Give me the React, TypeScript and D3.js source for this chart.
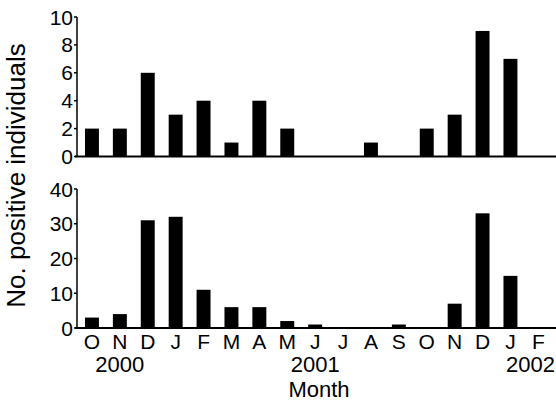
import React from "react";
import * as d3 from "d3";

const months = ["O", "N", "D", "J", "F", "M", "A", "M", "J", "J", "A", "S", "O", "N", "D", "J", "F"];
const topValues = [2, 2, 6, 3, 4, 1, 4, 2, 0, 0, 1, 0, 2, 3, 9, 7, 0];
const bottomValues = [3, 4, 31, 32, 11, 6, 6, 2, 1, 0, 0, 1, 0, 7, 33, 15, 0];
const topTicks = [0, 2, 4, 6, 8, 10];
const bottomTicks = [0, 10, 20, 30, 40];
const years = [
  { label: "2000", index: 1 },
  { label: "2001", index: 8 },
];
const lastYear = "2002";
const yLabel = "No. positive individuals";
const xLabel = "Month";

const W = 556;
const H = 402;
const FONT = "'Liberation Sans', Arial, Helvetica, sans-serif";
const axisX = 77;

export default function App() {
  const idx = months.map((_, i) => i);
  const x = d3
    .scaleBand<number>()
    .domain(idx)
    .range([78, 78 + 17 * 27.9])
    .paddingInner(0.5)
    .paddingOuter(0.25);

  const yTop = d3.scaleLinear().domain([0, 10]).range([156.5, 17]);
  const yBot = d3.scaleLinear().domain([0, 40]).range([328, 189]);

  const panel = (
    values: number[],
    y: d3.ScaleLinear<number, number>,
    ticks: number[],
    key: string
  ) => (
    <g key={key}>
      {values.map((v, i) =>
        v > 0 ? (
          <rect
            key={i}
            x={x(i)}
            y={y(v)}
            width={x.bandwidth()}
            height={y(0) - y(v)}
            fill="#000"
          />
        ) : null
      )}
      <line x1={axisX} x2={axisX} y1={y(ticks[ticks.length - 1])} y2={y(0)} stroke="#000" strokeWidth={1.5} />
      <line x1={75} x2={W} y1={y(0)} y2={y(0)} stroke="#000" strokeWidth={2} />
      {ticks.map((t) => (
        <g key={t}>
          <line x1={axisX - 3} x2={axisX} y1={y(t)} y2={y(t)} stroke="#000" strokeWidth={1.5} />
          <text
            x={axisX - 4}
            y={y(t)}
            dy="0.36em"
            textAnchor="end"
            fontSize={21}
            fontFamily={FONT}
          >
            {t}
          </text>
        </g>
      ))}
    </g>
  );

  return (
    <svg width={W} height={H} style={{ display: "block", position: "absolute", left: 0, top: 0 }}>
      <rect width={W} height={H} fill="#fff" />
      {panel(topValues, yTop, topTicks, "top")}
      {panel(bottomValues, yBot, bottomTicks, "bottom")}
      {months.map((m, i) => (
        <text
          key={i}
          x={(x(i) as number) + x.bandwidth() / 2}
          y={349}
          textAnchor="middle"
          fontSize={21}
          fontFamily={FONT}
        >
          {m}
        </text>
      ))}
      {years.map((yr) => (
        <text
          key={yr.label}
          x={(x(yr.index) as number) + x.bandwidth() / 2}
          y={372}
          textAnchor="middle"
          fontSize={22}
          fontFamily={FONT}
        >
          {yr.label}
        </text>
      ))}
      <text x={555} y={372} textAnchor="end" fontSize={22} fontFamily={FONT}>
        {lastYear}
      </text>
      <text x={319} y={397} textAnchor="middle" fontSize={22} fontFamily={FONT}>
        {xLabel}
      </text>
      <text
        transform="translate(25,175.5) rotate(-90)"
        textAnchor="middle"
        fontSize={26}
        fontFamily={FONT}
      >
        {yLabel}
      </text>
    </svg>
  );
}
